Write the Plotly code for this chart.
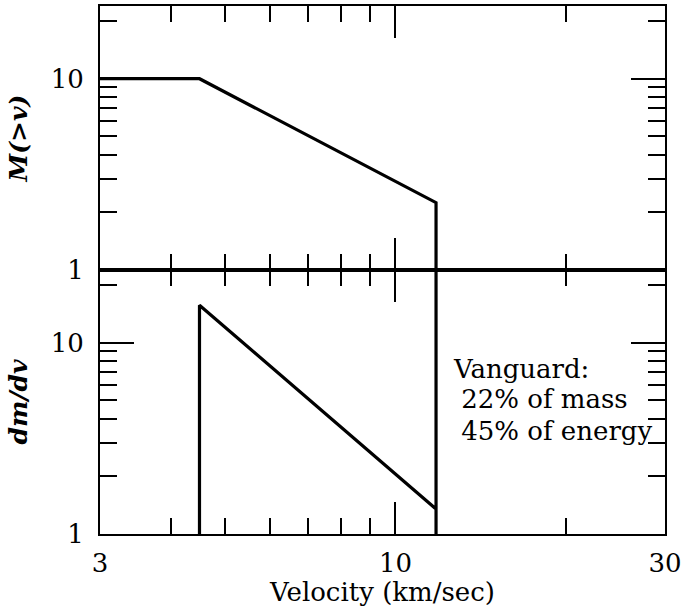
import plotly.graph_objects as go
import math

# ---- data ----
v_mass = [3, 4.5, 11.8, 11.8]          # velocity (km/sec), top panel
m_cum = [10, 10, 2.25, 0.01]           # M(>v)

v_dm = [4.5, 4.5, 11.8, 11.8, 11.8]    # velocity (km/sec), bottom panel
dm_dv = [0.01, 15.7, 1.35, 0.01, 100]  # dm/dv

x_major = [3, 10, 30]
x_major_text = ["3", "10", "30"]
x_minor = [4, 5, 6, 7, 8, 9, 20]
y_major = [1, 10]
y_major_text = ["1", "10"]
y_minor = [2, 3, 4, 5, 6, 7, 8, 9, 20]

note_lines = ["Vanguard:", "\u00a022% of mass", "\u00a045% of energy"]

FONT = "DejaVu Serif"

fig = go.Figure()
fig.add_trace(go.Scatter(x=v_mass, y=m_cum, mode="lines", xaxis="x2", yaxis="y2",
                         line=dict(color="black", width=3.2), showlegend=False))
fig.add_trace(go.Scatter(x=v_dm, y=dm_dv, mode="lines", xaxis="x", yaxis="y",
                         line=dict(color="black", width=3.2), showlegend=False))

def xstyle(**kw):
    d = dict(type="log", range=[math.log10(3), math.log10(30)],
             showline=True, linecolor="black", linewidth=2, mirror="allticks",
             ticks="inside", ticklen=32, tickwidth=1.5, tickcolor="black",
             tickmode="array", tickvals=x_major, ticktext=x_major_text,
             minor=dict(ticks="inside", ticklen=16, tickwidth=1.5, tickcolor="black",
                        tickmode="array", tickvals=x_minor),
             showgrid=False, zeroline=False, automargin=False,
             tickfont=dict(family=FONT, size=26, color="black"))
    d.update(kw)
    return d

def ystyle(title, **kw):
    d = dict(type="log", range=[0, math.log10(24)],
             showline=True, linecolor="black", linewidth=2, mirror="allticks",
             ticks="inside", ticklen=34, tickwidth=1.5, tickcolor="black",
             tickmode="array", tickvals=y_major, ticktext=y_major_text,
             minor=dict(ticks="inside", ticklen=17, tickwidth=1.5, tickcolor="black",
                        tickmode="array", tickvals=y_minor),
             showgrid=False, zeroline=False, automargin=False,
             tickfont=dict(family=FONT, size=26, color="black"),
             ticklabelstandoff=9,
             title=dict(text=title, font=dict(family=FONT, size=25, color="black"),
                        standoff=16))
    d.update(kw)
    return d

fig.update_layout(
    width=683, height=607,
    margin=dict(l=100, r=18, t=6, b=73),
    plot_bgcolor="white", paper_bgcolor="white",
    font=dict(family=FONT, color="black"),
    xaxis=xstyle(anchor="y", domain=[0, 1], ticklabelstandoff=5,
                 title=dict(text="Velocity (km/sec)",
                            font=dict(family=FONT, size=26, color="black"),
                            standoff=0)),
    xaxis2=xstyle(anchor="y2", domain=[0, 1], matches="x", showticklabels=False),
    yaxis=ystyle("<b><i>dm/dv</i></b>", anchor="x", domain=[0, 0.5]),
    yaxis2=ystyle("<b><i>M(&gt;v)</i></b>", anchor="x2", domain=[0.5, 1]),
)

ys = [0.3125, 0.2557, 0.195]
for t, yy in zip(note_lines, ys):
    fig.add_annotation(text=t, xref="paper", yref="paper", x=0.622, y=yy,
                       xanchor="left", yanchor="middle", showarrow=False,
                       font=dict(family=FONT, size=26, color="black"))

fig.write_html("out.html")
